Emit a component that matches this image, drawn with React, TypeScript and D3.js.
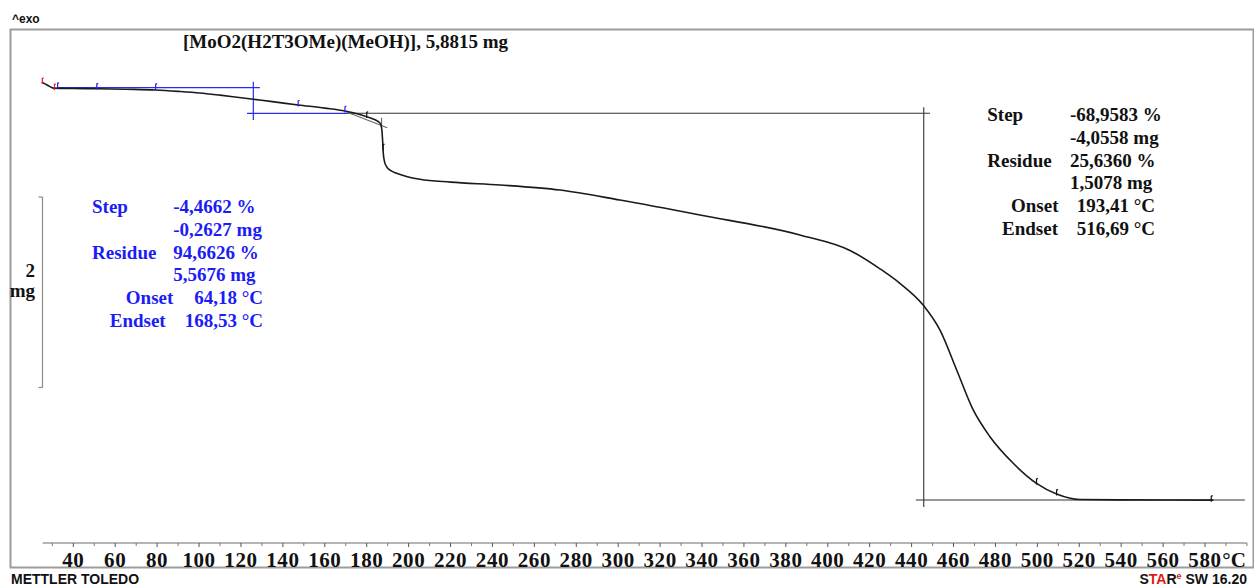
import React from 'react';
import * as d3 from 'd3';

// ---- Data ----
const temperatureC = [
  25.0, 27.5, 30.5, 40, 51.2, 65, 79.3, 90, 100.4, 110, 116.2, 125.9, 135, 147.3, 160, 169.6,
  175, 180.0, 184, 186.5, 187.2, 187.6, 187.9, 188.5, 189.5, 191.5, 194.3, 199, 205.4, 220,
  243.6, 272.2, 300.8, 339.0, 386.7, 410.6, 424.9, 434.4, 445.5, 453.5, 461.5, 469.4, 477.4,
  488.5, 499.6, 509.2, 520.3, 540, 584,
];
const massMg = [
  5.895, 5.865, 5.832, 5.828, 5.826, 5.82, 5.812, 5.798, 5.781, 5.758, 5.742, 5.715, 5.69, 5.655,
  5.622, 5.592, 5.565, 5.532, 5.5, 5.462, 5.4, 5.28, 5.151, 5.06, 5.007, 4.965, 4.938, 4.905,
  4.875, 4.845, 4.815, 4.762, 4.657, 4.5, 4.29, 4.128, 3.935, 3.783, 3.555, 3.293, 2.873, 2.453,
  2.172, 1.893, 1.683, 1.571, 1.513, 1.509, 1.507,
];

const tickLabels = [40, 60, 80, 100, 120, 140, 160, 180, 200, 220, 240, 260, 280, 300, 320, 340, 360, 380, 400, 420, 440, 460, 480, 500, 520, 540, 560, 580];
const minorTicks = [30, 50, 70, 90, 110, 130, 150, 170, 190, 210, 230, 250, 270, 290, 310, 330, 350, 370, 390, 410, 430, 450, 470, 490, 510, 530, 550, 570, 590, 600];

// evaluation markers (temperature, mass)
const redMarkT = [25.2, 31];
const redMarkM = [5.895, 5.832];
const blueMarkT = [32.5, 51.2, 79.3, 147.3, 169.6];
const blueMarkM = [5.845, 5.838, 5.836, 5.66, 5.598];
const blackMarkT = [180, 187.8, 499.6, 509.2, 583];
const blackMarkM = [5.54, 5.2, 1.69, 1.575, 1.51];

// construction lines: [T1, m1, T2, m2]
const blueLines = [
  [32.2, 5.8364, 129, 5.8364],
  [122.9, 5.5676, 170.6, 5.5676],
  [125.9, 5.899, 125.9, 5.497],
];
const blackLines = [
  [170.6, 5.5676, 448.8, 5.5676],
  [445.8, 5.63, 445.8, 1.434],
  [442, 1.5078, 599, 1.5078],
];
const grayLines = [
  [170.4, 5.5817, 189.8, 5.415],
  [187.1, 5.52, 187.1, 5.41],
];

const leftLabels = ['Step', '', 'Residue', '', 'Onset', 'Endset'];
const leftValues = ['-4,4662 %', '-0,2627 mg', '94,6626 %', '5,5676 mg', '64,18 °C', '168,53 °C'];
const rightLabels = ['Step', '', 'Residue', '', 'Onset', 'Endset'];
const rightValues = ['-68,9583 %', '-4,0558 mg', '25,6360 %', '1,5078 mg', '193,41 °C', '516,69 °C'];

const title = '[MoO2(H2T3OMe)(MeOH)], 5,8815 mg';
const scaleBarMg = 2;

// ---- Layout ----
const W = 1254;
const H = 585;
const SERIF = '"Liberation Serif", "Times New Roman", serif';
const SANS = '"Liberation Sans", Arial, sans-serif';
const BLUE = '#1c1cf5';

const x = d3.scaleLinear().domain([40, 580]).range([73.3, 1205]);
const y = d3.scaleLinear().domain([1.5078, 5.5676]).range([500, 113.3]);
const axisY = 543;

export default function App() {
  const pts: [number, number][] = temperatureC.map((t, i) => [t, massMg[i]]);
  const line = d3
    .line<[number, number]>()
    .x((d) => x(d[0]))
    .y((d) => y(d[1]))
    .curve(d3.curveMonotoneX);

  const barTop = 197;
  const barLen = y(0) - y(scaleBarMg);

  const mark = (t: number, m: number, color: string, key: string) => {
    const cx = x(t);
    const cy = y(m);
    return (
      <g key={key} stroke={color} strokeWidth={1.2}>
        <line x1={cx} x2={cx} y1={cy - 4} y2={cy + 2} />
        <line x1={cx} x2={cx + 1.5} y1={cy - 4} y2={cy - 4} />
      </g>
    );
  };

  const leftRowY = (i: number) => 213.3 + i * 22.7;
  const rightRowY = (i: number) => 120.7 + i * 22.9;

  return (
    <svg
      width={W}
      height={H}
      viewBox={`0 0 ${W} ${H}`}
      style={{ position: 'absolute', left: 0, top: 0, background: '#fff' }}
    >
      <rect x={0} y={0} width={W} height={H} fill="#fff" />
      {/* ^exo */}
      <text x={12} y={23} fontFamily={SANS} fontWeight="bold" fontSize={12} fill="#111">
        ^exo
      </text>
      {/* frame */}
      <rect x={10.5} y={29.5} width={1243} height={538} fill="none" stroke="#9c9c9c" strokeWidth={2} />

      {/* title */}
      <text x={183} y={47.5} fontFamily={SERIF} fontWeight="bold" fontSize={19} fill="#111">
        {title}
      </text>

      {/* scale bar */}
      <g stroke="#8a8a8a" strokeWidth={1.2} fill="none">
        <line x1={42.5} x2={42.5} y1={barTop} y2={barTop + barLen} />
        <line x1={38.5} x2={42.5} y1={barTop} y2={barTop} />
        <line x1={38.5} x2={42.5} y1={barTop + barLen} y2={barTop + barLen} />
      </g>
      <text x={35} y={277} textAnchor="end" fontFamily={SERIF} fontWeight="bold" fontSize={19} fill="#111">
        {scaleBarMg}
      </text>
      <text x={35} y={297} textAnchor="end" fontFamily={SERIF} fontWeight="bold" fontSize={19} fill="#111">
        mg
      </text>

      {/* construction lines */}
      {blueLines.map((l, i) => (
        <line key={'b' + i} x1={x(l[0])} y1={y(l[1])} x2={x(l[2])} y2={y(l[3])} stroke="#2a2af0" strokeWidth={1.2} />
      ))}
      {blackLines.map((l, i) => (
        <line key={'k' + i} x1={x(l[0])} y1={y(l[1])} x2={x(l[2])} y2={y(l[3])} stroke="#333" strokeWidth={1.1} />
      ))}
      {grayLines.map((l, i) => (
        <line key={'g' + i} x1={x(l[0])} y1={y(l[1])} x2={x(l[2])} y2={y(l[3])} stroke="#666" strokeWidth={1.1} />
      ))}

      {/* curve */}
      <path d={line(pts) || ''} fill="none" stroke="#1a1a1a" strokeWidth={1.6} />

      {/* markers */}
      {redMarkT.map((t, i) => mark(t, redMarkM[i], '#e02020', 'r' + i))}
      {blueMarkT.map((t, i) => mark(t, blueMarkM[i], '#2020f0', 'bl' + i))}
      {blackMarkT.map((t, i) => mark(t, blackMarkM[i], '#111', 'bk' + i))}

      {/* left annotation (blue) */}
      <g fontFamily={SERIF} fontWeight="bold" fontSize={19} fill={BLUE}>
        {leftLabels.map((s, i) =>
          s ? (
            <text
              key={'ll' + i}
              x={i < 4 ? 92 : i === 4 ? 173.3 : 165.7}
              y={leftRowY(i)}
              textAnchor={i < 4 ? 'start' : 'end'}
            >
              {s}
            </text>
          ) : null
        )}
        {leftValues.map((s, i) => (
          <text
            key={'lv' + i}
            x={i < 4 ? 173.3 : 263}
            y={leftRowY(i)}
            textAnchor={i < 4 ? 'start' : 'end'}
          >
            {s}
          </text>
        ))}
      </g>

      {/* right annotation (black) */}
      <g fontFamily={SERIF} fontWeight="bold" fontSize={19} fill="#111">
        {rightLabels.map((s, i) =>
          s ? (
            <text
              key={'rl' + i}
              x={i < 4 ? 987.3 : i === 4 ? 1058.5 : 1058}
              y={rightRowY(i)}
              textAnchor={i < 4 ? 'start' : 'end'}
            >
              {s}
            </text>
          ) : null
        )}
        {rightValues.map((s, i) => (
          <text
            key={'rv' + i}
            x={i < 4 ? 1070 : 1155}
            y={rightRowY(i)}
            textAnchor={i < 4 ? 'start' : 'end'}
          >
            {s}
          </text>
        ))}
      </g>

      {/* x axis */}
      <line x1={x(25.4)} x2={x(600)} y1={axisY} y2={axisY} stroke="#9c9c9c" strokeWidth={1.5} />
      {tickLabels.map((t) => (
        <line key={'mt' + t} x1={x(t)} x2={x(t)} y1={axisY} y2={axisY + 4} stroke="#555" strokeWidth={1} />
      ))}
      {minorTicks.map((t) => (
        <line key={'nt' + t} x1={x(t)} x2={x(t)} y1={axisY} y2={axisY + 3} stroke="#777" strokeWidth={1} />
      ))}
      <g fontFamily={SERIF} fontWeight="bold" fontSize={21} fill="#111" textAnchor="middle" letterSpacing={0.6}>
        {tickLabels.map((t) => (
          <text key={'tl' + t} x={x(t)} y={566.5}>
            {t}
          </text>
        ))}
      </g>
      <text x={x(600) - 1} y={566.5} textAnchor="end" fontFamily={SERIF} fontWeight="bold" fontSize={21} fill="#111">
        °C
      </text>

      {/* footer */}
      <text x={11} y={583.5} fontFamily={SANS} fontWeight="bold" fontSize={14} fill="#111">
        METTLER TOLEDO
      </text>
      <text x={1247} y={583.5} textAnchor="end" fontFamily={SANS} fontWeight="bold" fontSize={14} fill="#111">
        <tspan>S</tspan>
        <tspan fill="#e01818">TA</tspan>
        <tspan>R</tspan>
        <tspan fill="#e01818" fontSize={9} dy={-5}>e</tspan>
        <tspan dy={5}> SW 16.20</tspan>
      </text>
    </svg>
  );
}
